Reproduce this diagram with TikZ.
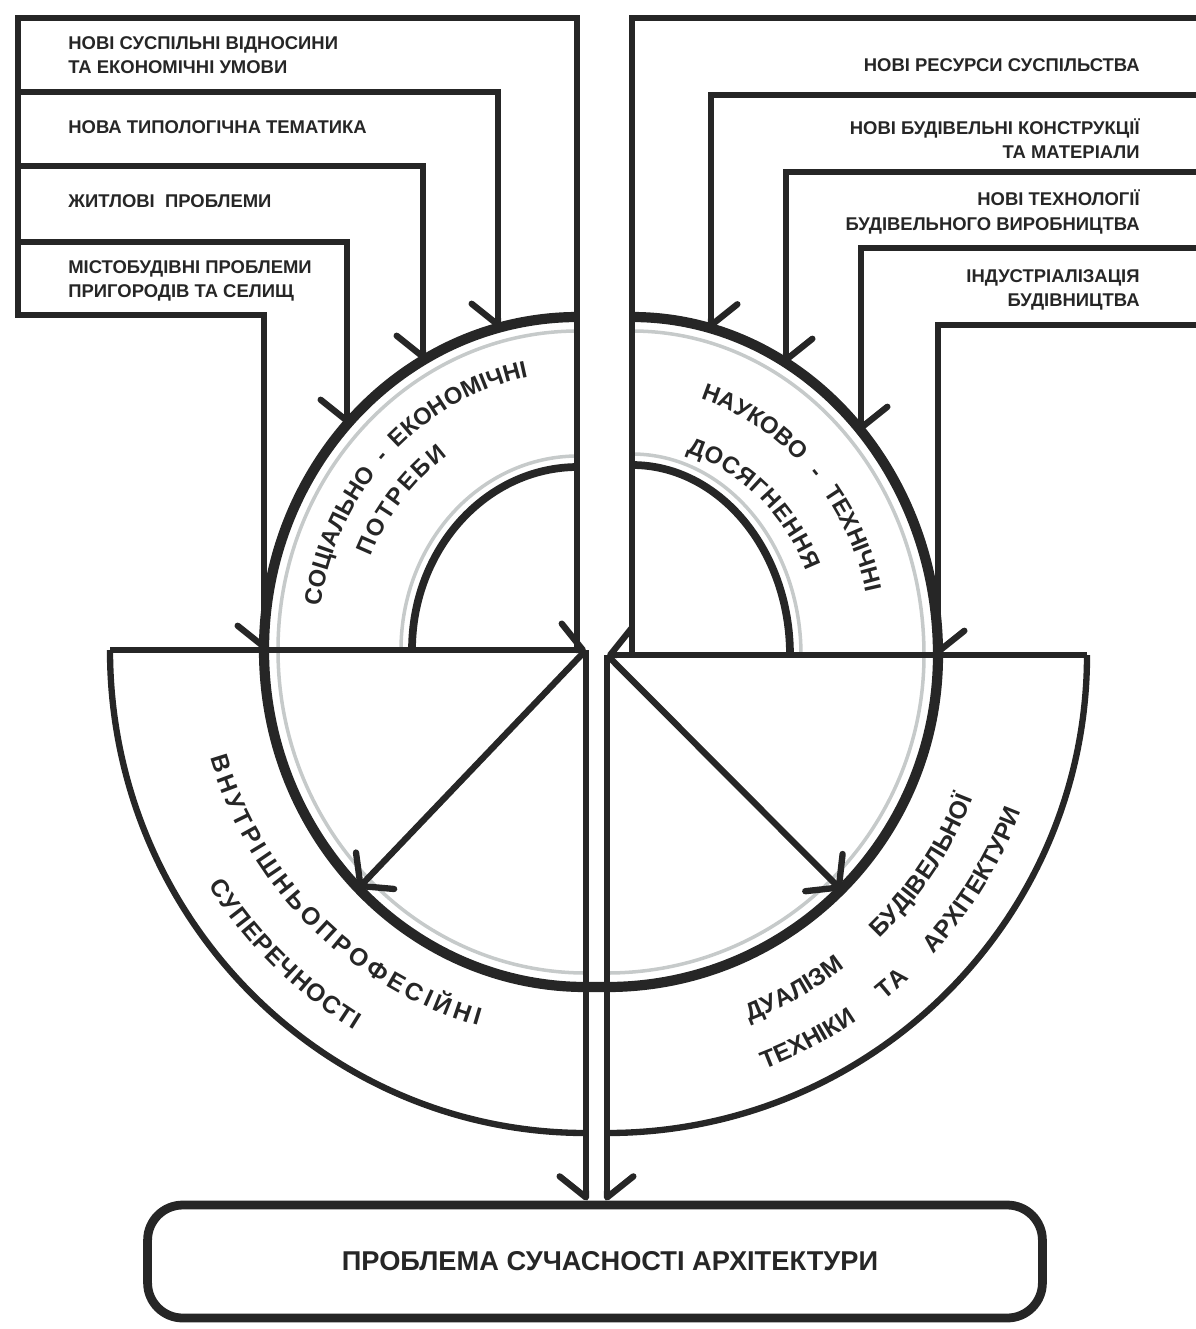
\documentclass[tikz,border=0pt]{standalone}
\usepackage{fontspec}
\setmainfont{Liberation Sans}
\usetikzlibrary{arrows.meta, calc, decorations.text}
\definecolor{ink}{HTML}{262626}
\definecolor{haze}{HTML}{C6CACA}
\newcommand\boxfont{\fontsize{10.5}{13.8}\selectfont\bfseries}
\newcommand\arcfont{\fontsize{13.5}{16}\selectfont\bfseries}
\newcommand\lowfont{\fontsize{14}{16}\selectfont\bfseries}
\tikzset{
  frame/.style={draw=ink, line width=3.6pt},
  feed/.style={frame, -{Straight Barb[length=12pt, width=30pt, round]}},
  feedl/.style={frame, -{Straight Barb[length=12pt, width=30pt, round, left]}},
  feedr/.style={frame, -{Straight Barb[length=12pt, width=30pt, round, right]}},
  ring/.style={draw=ink, line width=5.8pt},
  core/.style={draw=ink, line width=4.4pt},
  halo/.style={draw=haze, line width=2pt},
  %
  lbl/.style={font=\boxfont, text=ink, inner sep=0pt, align=left, anchor=west},
  lblr/.style={lbl, align=right, anchor=east},
  goal/.style={draw=ink, line width=5pt, rounded corners=20pt,
               minimum width=17.9cm, minimum height=2.26cm,
               font=\fontsize{15.5}{18}\selectfont\bfseries, text=ink},
  %
  fitted/.style={decorate, decoration={text along path, text color=ink,
                 text align=fit to path, text={#1}}},
  spaced/.style={decorate, decoration={text along path, text color=ink,
                 text align={fit to path stretching spaces}, text={#1}}},
}

\begin{document}
\begin{tikzpicture}[x=0.02cm, y=0.02cm]
  \useasboundingbox (0,0) rectangle (1196,-1329);

  % --- centres of the four quarters ---------------------------------------
  \coordinate (tlc) at (578,-650);
  \coordinate (trc) at (632,-655);
  \coordinate (blc) at (586,-650);
  \coordinate (brc) at (607,-655);

  % --- grey shadow lines along the rings ----------------------------------
  \draw[halo] ($(tlc)+(180:300 and 319)$) arc[start angle=180, end angle=90, x radius=300, y radius=319];
  \draw[halo] ($(trc)+(90:292 and 324)$) arc[start angle=90, end angle=0, x radius=292, y radius=324];
  \draw[halo] ($(blc)+(180:308 and 323)$) arc[start angle=180, end angle=270, x radius=308, y radius=323];
  \draw[halo] ($(brc)+(270:317 and 318)$) arc[start angle=270, end angle=360, x radius=317, y radius=318];
  \draw[halo] ($(tlc)+(180:177 and 194)$) arc[start angle=180, end angle=90, x radius=177, y radius=194];
  \draw[halo] ($(trc)+(90:169 and 201)$) arc[start angle=90, end angle=0, x radius=169, y radius=201];

  % --- the rings -----------------------------------------------------------
  \draw[ring] (264,-650) arc[start angle=180, end angle=90, x radius=314, y radius=333];
  \draw[ring] (632,-317) arc[start angle=90, end angle=0, x radius=306, y radius=338];
  \draw[ring] (264,-650) arc[start angle=180, end angle=270, x radius=322, y radius=337]
    -- (607,-987) arc[start angle=270, end angle=360, x radius=331, y radius=332];
  \draw[core] (412,-650) arc[start angle=180, end angle=90, x radius=166, y radius=183];
  \draw[core] (632,-465) arc[start angle=90, end angle=0, x radius=158, y radius=190];
  \draw[frame] (110,-650) arc[start angle=180, end angle=270, x radius=476, y radius=483];
  \draw[frame] (1087,-655) arc[start angle=0, end angle=-90, x radius=480, y radius=478];

  % --- left brackets -------------------------------------------------------
  \coordinate (tl1) at (264,-650);
  \coordinate (tl2) at (347,-424);
  \coordinate (tl3) at (423,-360);
  \coordinate (tl4) at (498,-328);
  \draw[feedr] (577,-650) |- (18,-18) |- (264,-315) -- (tl1);
  \draw[feedr] (18,-242) -| (tl2);
  \draw[feedr] (18,-166) -| (tl3);
  \draw[feedr] (18,-92) -| (tl4);

  \node[lbl] (soc1) at (68,-55) {НОВІ СУСПІЛЬНІ ВІДНОСИНИ\\ТА ЕКОНОМІЧНІ УМОВИ};
  \node[lbl] (soc2) at (68,-127) {НОВА ТИПОЛОГІЧНА ТЕМАТИКА};
  \node[lbl] (soc3) at (68,-201) {ЖИТЛОВІ~~ПРОБЛЕМИ};
  \node[lbl] (soc4) at (68,-281) {МІСТОБУДІВНІ ПРОБЛЕМИ\\ПРИГОРОДІВ ТА СЕЛИЩ};

  % --- right brackets ------------------------------------------------------
  \coordinate (tr1) at (711,-328.5);
  \coordinate (tr2) at (786,-363);
  \coordinate (tr3) at (861,-431);
  \coordinate (tr4) at (938,-655);
  \draw[frame] (632,-655) |- (1196,-18);
  \draw[feedl] (1196,-95) -| (tr1);
  \draw[feedl] (1196,-172) -| (tr2);
  \draw[feedl] (1196,-248) -| (tr3);
  \draw[feedl] (1196,-325) -| (tr4);

  \node[lblr] (tech1) at (1140,-65) {НОВІ РЕСУРСИ СУСПІЛЬСТВА};
  \node[lblr] (tech2) at (1140,-139) {НОВІ БУДІВЕЛЬНІ КОНСТРУКЦІЇ\\ТА МАТЕРІАЛИ};
  \node[lblr] (tech3) at (1140,-212) {НОВІ ТЕХНОЛОГІЇ\\БУДІВЕЛЬНОГО ВИРОБНИЦТВА};
  \node[lblr] (tech4) at (1140,-290) {ІНДУСТРІАЛІЗАЦІЯ\\БУДІВНИЦТВА};

  % --- into the centre and out again ---------------------------------------
  \node[goal] (goal) at (595,-1261.5) {\hspace*{0.6cm}ПРОБЛЕМА СУЧАСНОСТІ АРХІТЕКТУРИ};
  \coordinate (lin) at (110,-650);
  \coordinate (rin) at (1087,-655);
  \coordinate (ldia) at ($(blc)+(225:322 and 337)$);
  \coordinate (rdia) at ($(brc)+(315:331 and 332)$);
  \draw[feedl] (lin) -- (blc);
  \draw[feedr] (rin) -- (brc);
  \draw[feed] (blc) -- (ldia);
  \draw[feed] (brc) -- (rdia);
  \draw[feedr] (blc) -- (blc |- goal.north);
  \draw[feedl] (brc) -- (brc |- goal.north);

  % --- curved captions -----------------------------------------------------
  \path[spaced={|\arcfont|СОЦІАЛЬНО - ЕКОНОМІЧНІ}] ($(tlc)+(171:261 and 278)$)
    arc[start angle=171, end angle=101, x radius=261, y radius=278];
  \path[fitted={|\arcfont|ПОТРЕБИ}] ($(tlc)+(157:225 and 239)$)
    arc[start angle=157, end angle=125.5, x radius=225, y radius=239];
  \path[spaced={|\arcfont|НАУКОВО - ТЕХНІЧНІ}] ($(trc)+(73.5:241 and 267)$)
    arc[start angle=73.5, end angle=13.5, x radius=241, y radius=267];
  \path[fitted={|\arcfont|ДОСЯГНЕННЯ}] ($(trc)+(73.5:190 and 211)$)
    arc[start angle=73.5, end angle=23.5, x radius=190, y radius=211];
  \path[fitted={|\lowfont|ВНУТРІШНЬОПРОФЕСІЙНІ}] ($(blc)+(196:391)$)
    arc[start angle=196, end angle=254, radius=391];
  \path[fitted={|\lowfont|СУПЕРЕЧНОСТІ}] ($(blc)+(212:445)$)
    arc[start angle=212, end angle=238.6, radius=445];
  \path[spaced={|\lowfont|ДУАЛІЗМ БУДІВЕЛЬНОЇ}] ($(brc)+(291.2:393)$)
    arc[start angle=291.2, end angle=338.6, radius=393];
  \path[spaced={|\lowfont|ТЕХНІКИ ТА АРХІТЕКТУРИ}] ($(brc)+(290.8:443)$)
    arc[start angle=290.8, end angle=339.3, radius=443];

\end{tikzpicture}
\end{document}
